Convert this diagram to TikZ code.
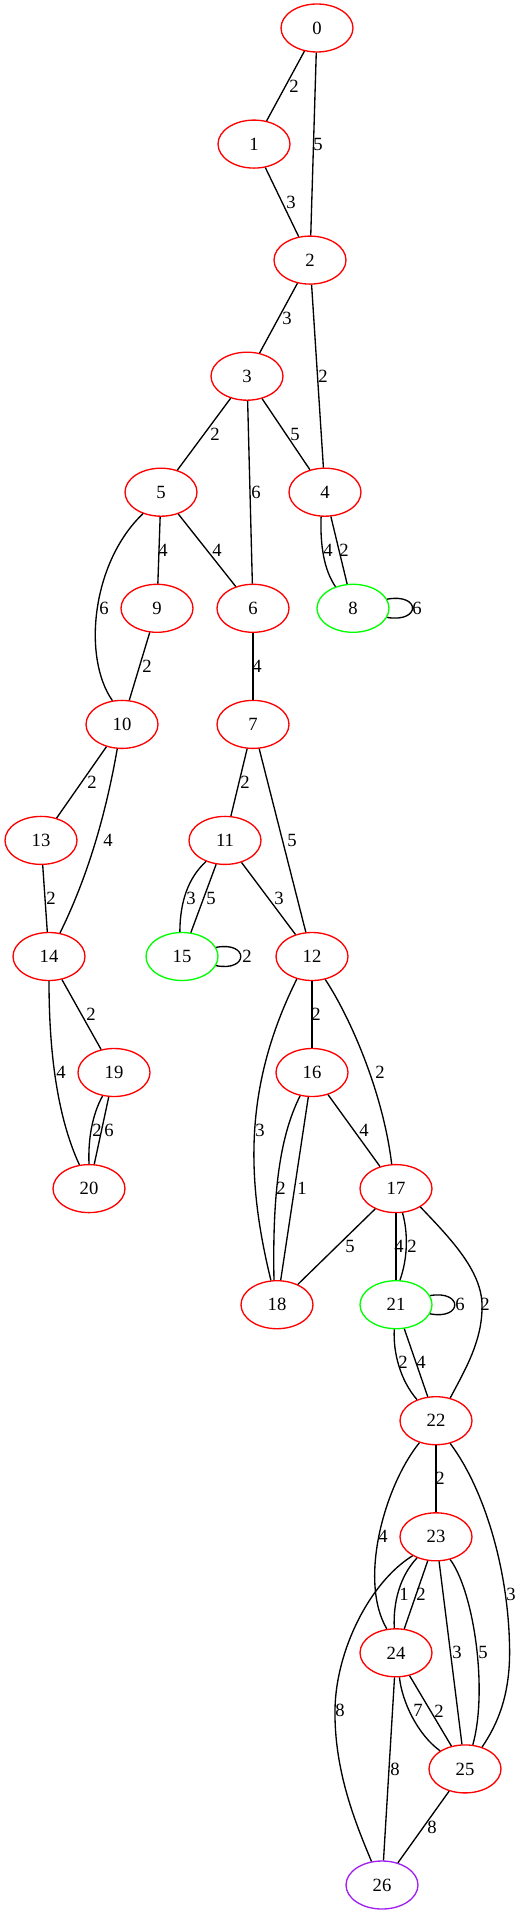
\documentclass[tikz,border=0pt]{standalone}
\usepackage{fontspec}
\setmainfont{Liberation Serif}
\usetikzlibrary{shapes.geometric}
\definecolor{gvred}{HTML}{FF0000}
\definecolor{gvgreen}{HTML}{00FF00}
\definecolor{gvpurple}{HTML}{A020F0}
\begin{document}
\begin{tikzpicture}[x=0.75pt,y=-0.75pt,
  vtx/.style={ellipse,draw=gvred,line width=1pt,minimum width=54pt,minimum height=36pt,inner sep=0pt,font=\fontsize{14}{16}\selectfont},
  gvtx/.style={vtx,draw=gvgreen},
  pvtx/.style={vtx,draw=gvpurple},
  lbl/.style={inner sep=0pt,font=\fontsize{14}{16}\selectfont},
  edge/.style={draw=black,line width=1pt}]
\useasboundingbox (0,0) rectangle (521,1915);
% nodes
\node[vtx] (n0) at (317,28) {0};
\node[vtx] (n1) at (254,144.1) {1};
\node[vtx] (n2) at (310,260.1) {2};
\node[vtx] (n3) at (247,376.2) {3};
\node[vtx] (n5) at (161,492.2) {5};
\node[vtx] (n4) at (325,492.2) {4};
\node[vtx] (n9) at (157,608.3) {9};
\node[vtx] (n6) at (253,608.3) {6};
\node[gvtx] (n8) at (353,608.3) {8};
\node[vtx] (n10) at (122,724.4) {10};
\node[vtx] (n7) at (253,724.4) {7};
\node[vtx] (n13) at (41,840.4) {13};
\node[vtx] (n11) at (225,840.4) {11};
\node[vtx] (n14) at (49,956.5) {14};
\node[gvtx] (n15) at (182,956.5) {15};
\node[vtx] (n12) at (312,956.5) {12};
\node[vtx] (n19) at (114,1072.5) {19};
\node[vtx] (n16) at (312,1072.5) {16};
\node[vtx] (n20) at (89,1188.6) {20};
\node[vtx] (n17) at (396,1188.6) {17};
\node[vtx] (n18) at (277,1304.7) {18};
\node[gvtx] (n21) at (396,1304.7) {21};
\node[vtx] (n22) at (436,1420.7) {22};
\node[vtx] (n23) at (436,1536.8) {23};
\node[vtx] (n24) at (396,1652.8) {24};
\node[vtx] (n25) at (465,1768.9) {25};
\node[pvtx] (n26) at (382,1885) {26};
% edges
\draw[edge] (n0) -- (n1);
\draw[edge] (n0) -- (n2);
\draw[edge] (n1) -- (n2);
\draw[edge] (n2) -- (n3);
\draw[edge] (n2) -- (n4);
\draw[edge] (n3) -- (n5);
\draw[edge] (n3) -- (n4);
\draw[edge] (n3) -- (n6);
\draw[edge] (n5) -- (n9);
\draw[edge] (n5) -- (n6);
\draw[edge] (n5.-130) .. controls (92,562) and (82,657) .. (n10.112);
\draw[edge] (n4.-99) .. controls (320,545) and (324,570) .. (n8.129);
\draw[edge] (n4) -- (n8);
\draw[edge] (n8.15) .. controls (421,593) and (421,623) .. (n8.-15);
\draw[edge] (n9) -- (n10);
\draw[edge] (n6) -- (n7);
\draw[edge] (n10) -- (n13);
\draw[edge] (n10.-101) .. controls (110,790) and (95,862) .. (n14.65);
\draw[edge] (n7) -- (n11);
\draw[edge] (n7) -- (n12);
\draw[edge] (n11.-132) .. controls (188,878) and (180,902) .. (n15.95);
\draw[edge] (n11) -- (n15);
\draw[edge] (n11) -- (n12);
\draw[edge] (n13) -- (n14);
\draw[edge] (n15.15) .. controls (249,941) and (249,972) .. (n15.-15);
\draw[edge] (n14) -- (n19);
\draw[edge] (n14.-90) .. controls (49,1042) and (55,1112) .. (n20.112);
\draw[edge] (n12) -- (n16);
\draw[edge] (n12.-60) .. controls (350,1017) and (383,1092) .. (n17.100);
\draw[edge] (n12.-124) .. controls (245,1083) and (245,1175) .. (n18.104);
\draw[edge] (n19.-116) .. controls (92,1115) and (88,1140) .. (n20.90);
\draw[edge] (n19) -- (n20);
\draw[edge] (n16) -- (n17);
\draw[edge] (n16.-117) .. controls (283,1130) and (272,1180) .. (n18.97);
\draw[edge] (n16) -- (n18);
\draw[edge] (n17) -- (n18);
\draw[edge] (n17) -- (n21);
\draw[edge] (n17.-75) .. controls (408,1232) and (408,1258) .. (n21.81);
\draw[edge] (n17.-37) .. controls (450,1238) and (481,1270) .. (482,1304) .. controls (483,1340) and (465,1370) .. (n22.58);
\draw[edge] (n21.15) .. controls (463,1290) and (463,1320) .. (n21.-15);
\draw[edge] (n21.-94) .. controls (393,1352) and (400,1380) .. (n22.132);
\draw[edge] (n21) -- (n22);
\draw[edge] (n22) -- (n23);
\draw[edge] (n22.-127) .. controls (385,1485) and (358,1580) .. (n24.111);
\draw[edge] (n22.-58) .. controls (485,1490) and (508,1570) .. (509.5,1645) .. controls (511,1695) and (497,1725) .. (n25.52);
\draw[edge] (n23.-132) .. controls (400,1576) and (393,1602) .. (n24.94);
\draw[edge] (n23) -- (n24);
\draw[edge] (n23) -- (n25);
\draw[edge] (n23.-58) .. controls (474,1592) and (488,1690) .. (n25.72);
\draw[edge] (n23.-141) .. controls (370,1582) and (336,1650) .. (335,1709) .. controls (334,1770) and (355,1822) .. (n26.114);
\draw[edge] (n24.-82) .. controls (402,1702) and (418,1735) .. (n25.144);
\draw[edge] (n24) -- (n25);
\draw[edge] (n24) -- (n26);
\draw[edge] (n25) -- (n26);
% labels
\node[lbl] (l01) at (294,86) {2};
\node[lbl] (l02) at (318,144.1) {5};
\node[lbl] (l12) at (291,202.1) {3};
\node[lbl] (l23) at (287,318.2) {3};
\node[lbl] (l24) at (323,376.2) {2};
\node[lbl] (l35) at (215,434.2) {2};
\node[lbl] (l34) at (295,434.2) {5};
\node[lbl] (l36) at (256,492.2) {6};
\node[lbl] (l59) at (163,550.3) {4};
\node[lbl] (l56) at (217,550.3) {4};
\node[lbl] (l510) at (104,608.3) {6};
\node[lbl] (l48a) at (328,550.3) {4};
\node[lbl] (l48b) at (344,550.3) {2};
\node[lbl] (l88) at (417,608.3) {6};
\node[lbl] (l910) at (147,666.4) {2};
\node[lbl] (l67) at (257,666.4) {4};
\node[lbl] (l1013) at (92,782.4) {2};
\node[lbl] (l711) at (245,782.4) {2};
\node[lbl] (l1014) at (108,840.4) {4};
\node[lbl] (l712) at (292,840.4) {5};
\node[lbl] (l1115a) at (191,898.5) {3};
\node[lbl] (l1115b) at (211,898.5) {5};
\node[lbl] (l1112) at (279,898.5) {3};
\node[lbl] (l1314) at (51,898.5) {2};
\node[lbl] (l1515) at (247,956.5) {2};
\node[lbl] (l1419) at (91,1014.5) {2};
\node[lbl] (l1216) at (316,1014.5) {2};
\node[lbl] (l1420) at (61,1072.5) {4};
\node[lbl] (l1217) at (380,1072.5) {2};
\node[lbl] (l1218) at (260,1130.6) {3};
\node[lbl] (l1920a) at (97,1130.6) {2};
\node[lbl] (l1920b) at (109,1130.6) {6};
\node[lbl] (l1617) at (364,1130.6) {4};
\node[lbl] (l1618a) at (281,1188.6) {2};
\node[lbl] (l1618b) at (302,1188.6) {1};
\node[lbl] (l1718) at (350,1246.6) {5};
\node[lbl] (l1721a) at (399,1246.6) {4};
\node[lbl] (l1721b) at (412,1246.6) {2};
\node[lbl] (l1722) at (485,1304.7) {2};
\node[lbl] (l2121) at (460,1304.7) {6};
\node[lbl] (l2122a) at (403,1362.7) {2};
\node[lbl] (l2122b) at (421,1362.7) {4};
\node[lbl] (l2223) at (440,1478.8) {2};
\node[lbl] (l2224) at (383,1536.8) {4};
\node[lbl] (l2225) at (511,1594.8) {3};
\node[lbl] (l2324a) at (404,1594.8) {1};
\node[lbl] (l2324b) at (421,1594.8) {2};
\node[lbl] (l2325a) at (457,1652.8) {3};
\node[lbl] (l2325b) at (483,1652.8) {5};
\node[lbl] (l2326) at (340,1710.8) {8};
\node[lbl] (l2425a) at (418,1710.8) {7};
\node[lbl] (l2425b) at (439,1710.8) {2};
\node[lbl] (l2426) at (395,1768.9) {8};
\node[lbl] (l2526) at (432,1826.9) {8};
\end{tikzpicture}
\end{document}
